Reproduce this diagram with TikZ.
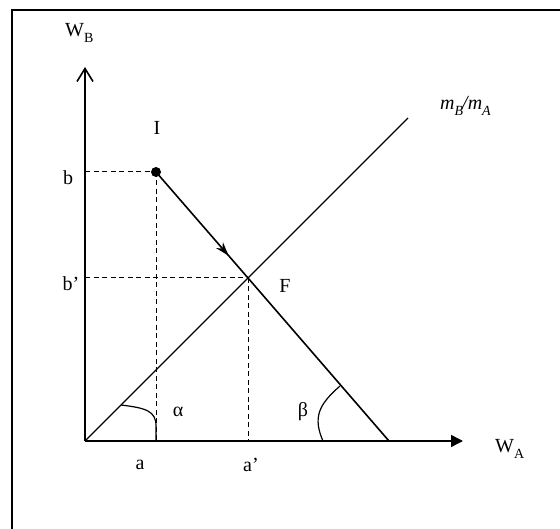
\documentclass[tikz,border=0pt]{standalone}
\usepackage{fontspec}
\setmainfont{Liberation Serif}
\usetikzlibrary{arrows.meta,decorations.markings}
\newcommand{\lowsub}[1]{\raisebox{-0.28em}{\fontsize{14}{16}\selectfont #1}}
\tikzset{
  axisline/.style={line width=1.6pt},
  plainline/.style={line width=1.2pt},
  guide/.style={line width=1pt, dash pattern=on 5pt off 3.5pt},
  lbl/.style={font=\fontsize{20}{24}\selectfont, inner sep=0pt},
  midarrow/.style={postaction={decorate},decoration={markings,
    mark=at position 0.79 with {\arrow{Stealth[length=14pt,width=9pt]}}}}
}
\begin{document}
\begin{tikzpicture}[x=1pt,y=-1pt]
\useasboundingbox (0,0) rectangle (560,529);
\clip (0,0) rectangle (560,529);
% frame
\coordinate (FB) at (12,540);
\coordinate (FTL) at (12,10);
\coordinate (FTR) at (570,10);
\draw[line width=2pt] (FB) -- (FTL) -- (FTR);
% points
\coordinate (O) at (85,441);
\coordinate (Yt) at (85,67);
\coordinate (Xt) at (463,441);
\coordinate (R) at (408,118);
\coordinate (I) at (156,172);
\coordinate (F) at (248,278);
\coordinate (D) at (389,441);
\coordinate (Ib) at (85,172);
\coordinate (Ia) at (156,441);
\coordinate (Fb) at (85,278);
\coordinate (Fa) at (248,441);
% guides
\draw[guide] (Ib) -- (I);
\draw[guide] (I) -- (Ia);
\draw[guide] (Fb) -- (F);
\draw[guide] (F) -- (Fa);
% axes
\draw[axisline,-{Straight Barb[length=13pt,width=16pt]}] (O) -- (Yt);
\draw[axisline,-{Triangle[length=12pt,width=12pt]}] (O) -- (Xt);
% lines
\draw[plainline] (O) -- (R);
\draw[line width=1.6pt,midarrow] (I) -- (F);
\draw[line width=1.6pt] (F) -- (D);
\fill (I) circle (5pt);
% angle marks
\coordinate (A1) at (121,405);
\coordinate (A2) at (156,426);
\draw[plainline] (A1) .. controls (146,408) and (156,411) .. (A2) -- (Ia);
\coordinate (B1) at (340,386);
\coordinate (B2) at (323,441);
\draw[plainline] (B1) .. controls (318,405) and (313,418) .. (B2);
% labels
\node[lbl,anchor=base west] (lWB) at (65,37) {W\lowsub{B}};
\node[lbl,anchor=base west] (lWA) at (495,453) {W\lowsub{A}};
\node[lbl] (lb) at (68,178) {b};
\node[lbl] (lbp) at (71,284) {b’};
\node[lbl] (la) at (140,465) {a};
\node[lbl] (lap) at (251,465) {a’};
\node[lbl] (lI) at (157,128) {I};
\node[lbl] (lF) at (285,286) {F};
\node[lbl] (lal) at (178,412) {α};
\node[lbl] (lbe) at (303,412) {β};
\node[lbl,anchor=base west] (lm) at (440,110) {\textit{m\lowsub{B}\kern-1pt/m\lowsub{A}}};
\end{tikzpicture}
\end{document}
